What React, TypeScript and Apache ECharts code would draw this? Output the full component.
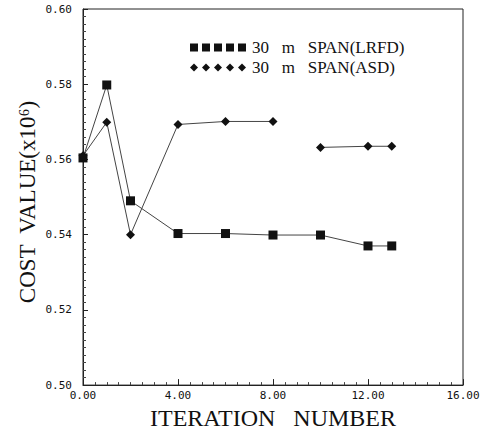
import React, { useEffect, useRef } from "react";
import * as echarts from "echarts";

const iterLRFD = [0, 1, 2, 4, 6, 8, 10, 12, 13];
const costLRFD = [0.5604, 0.5798, 0.549, 0.5403, 0.5403, 0.5399, 0.5399, 0.537, 0.537];
const iterASD = [0, 1, 2, 4, 6, 8, 9, 10, 12, 13];
const costASD: (number | null)[] = [0.561, 0.5699, 0.540, 0.5693, 0.5701, 0.5701, null, 0.5632, 0.5635, 0.5635];
const xTicks = { min: 0, max: 16, interval: 4 };
const yTicks = { min: 0.5, max: 0.6, interval: 0.02 };
const nameLRFD = "30   m   SPAN(LRFD)";
const nameASD = "30   m   SPAN(ASD)";
const xTitle = "ITERATION   NUMBER";
const yTitle = "COST  VALUE(x10⁶)";

const squaresIcon =
  "path://M0,0h8v8h-8z M12,0h8v8h-8z M24,0h8v8h-8z M36,0h8v8h-8z M48,0h8v8h-8z";
const diamondsIcon =
  "path://M4,0L8,4L4,8L0,4z M16,0L20,4L16,8L12,4z M28,0L32,4L28,8L24,4z M40,0L44,4L40,8L36,4z M52,0L56,4L52,8L48,4z";

export default function App() {
  const ref = useRef<HTMLDivElement>(null);
  useEffect(() => {
    if (!ref.current) return;
    const chart = echarts.init(ref.current, undefined, { renderer: "svg" });
    const serif = "Liberation Serif";
    const legendText = { fontFamily: serif, fontSize: 17, lineHeight: 17, color: "#111" };
    chart.setOption({
      animation: false,
      backgroundColor: "#fff",
      grid: { left: 83, top: 9, right: 21, bottom: 45, show: true, borderColor: "#222", borderWidth: 1 },
      legend: [
        {
          top: 39,
          left: 190,
          padding: 0,
          itemWidth: 58,
          itemHeight: 8,
          itemGap: 0,
          textStyle: legendText,
          data: [{ name: nameLRFD, icon: squaresIcon, itemStyle: { color: "#111" } }],
        },
        {
          top: 59,
          left: 190,
          padding: 0,
          itemWidth: 58,
          itemHeight: 8,
          itemGap: 0,
          textStyle: legendText,
          data: [{ name: nameASD, icon: diamondsIcon, itemStyle: { color: "#111" } }],
        },
      ],
      graphic: [
        {
          type: "text",
          x: 27,
          y: 202,
          rotation: Math.PI / 2,
          style: {
            text: yTitle,
            fontFamily: serif,
            fontSize: 23,
            fill: "#111",
            align: "center",
            verticalAlign: "middle",
          },
        },
      ],
      xAxis: {
        type: "value",
        min: xTicks.min,
        max: xTicks.max,
        interval: xTicks.interval,
        name: xTitle,
        nameLocation: "middle",
        nameGap: 17,
        nameTextStyle: { fontFamily: serif, fontSize: 24, color: "#111" },
        axisLine: { lineStyle: { color: "#222" } },
        axisTick: { inside: true, length: 6, lineStyle: { color: "#222" } },
        minorTick: { show: true, splitNumber: 8, length: 3, lineStyle: { color: "#444" } },
        splitLine: { show: false },
        axisLabel: {
          formatter: (v: number) => v.toFixed(2),
          fontFamily: "DejaVu Sans Mono",
          fontSize: 11,
          color: "#111",
          margin: 5,
        },
      },
      yAxis: {
        type: "value",
        min: yTicks.min,
        max: yTicks.max,
        interval: yTicks.interval,
        axisLine: { lineStyle: { color: "#222" } },
        axisTick: { inside: true, length: 5, lineStyle: { color: "#222" } },
        minorTick: { show: true, splitNumber: 10, length: 3, lineStyle: { color: "#444" } },
        splitLine: { show: false },
        axisLabel: {
          formatter: (v: number) => v.toFixed(2),
          fontFamily: "DejaVu Sans Mono",
          fontSize: 11,
          color: "#111",
          margin: 11,
        },
      },
      series: [
        {
          name: nameLRFD,
          type: "line",
          data: iterLRFD.map((x, i) => [x, costLRFD[i]]),
          symbol: "rect",
          symbolSize: 9,
          itemStyle: { color: "#111" },
          lineStyle: { color: "#444", width: 1 },
        },
        {
          name: nameASD,
          type: "line",
          connectNulls: false,
          data: iterASD.map((x, i) => [x, costASD[i] === null ? "-" : costASD[i]]),
          symbol: "diamond",
          symbolSize: 9,
          itemStyle: { color: "#111" },
          lineStyle: { color: "#444", width: 1 },
        },
      ],
    });
    return () => chart.dispose();
  }, []);
  return (
    <div
      ref={ref}
      style={{ position: "absolute", left: 0, top: 0, width: 484, height: 435 }}
    />
  );
}
